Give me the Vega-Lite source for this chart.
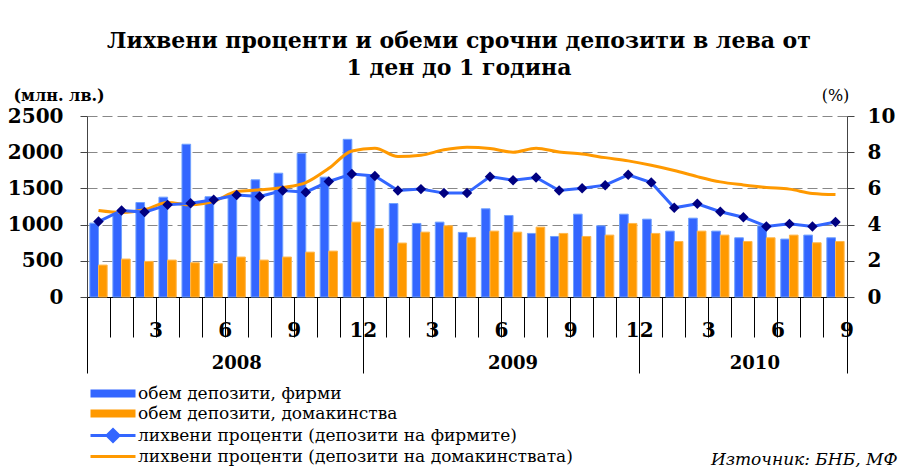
{
  "$schema": "https://vega.github.io/schema/vega-lite/v6.json",
  "autosize": "none",
  "width": 760,
  "height": 181,
  "padding": {"left": 87, "top": 116, "right": 53, "bottom": 170},
  "config": {"view": {"stroke": null}, "font": "DejaVu Serif"},
  "title": {
    "text": ["Лихвени проценти и обеми срочни депозити в лева от", "1 ден до 1 година"],
    "font": "DejaVu Serif", "fontSize": 22, "fontWeight": "bold", "color": "black",
    "anchor": "middle", "dx": -8, "offset": 7, "lineHeight": 27
  },
  "datasets": {
    "vol": [
      {"m": "2008-01", "s": "firms", "v": 1020}, {"m": "2008-01", "s": "households", "v": 441},
      {"m": "2008-02", "s": "firms", "v": 1170}, {"m": "2008-02", "s": "households", "v": 524},
      {"m": "2008-03", "s": "firms", "v": 1305}, {"m": "2008-03", "s": "households", "v": 492},
      {"m": "2008-04", "s": "firms", "v": 1379}, {"m": "2008-04", "s": "households", "v": 510},
      {"m": "2008-05", "s": "firms", "v": 2110}, {"m": "2008-05", "s": "households", "v": 473},
      {"m": "2008-06", "s": "firms", "v": 1385}, {"m": "2008-06", "s": "households", "v": 460},
      {"m": "2008-07", "s": "firms", "v": 1430}, {"m": "2008-07", "s": "households", "v": 552},
      {"m": "2008-08", "s": "firms", "v": 1618}, {"m": "2008-08", "s": "households", "v": 510},
      {"m": "2008-09", "s": "firms", "v": 1710}, {"m": "2008-09", "s": "households", "v": 552},
      {"m": "2008-10", "s": "firms", "v": 1985}, {"m": "2008-10", "s": "households", "v": 620},
      {"m": "2008-11", "s": "firms", "v": 1655}, {"m": "2008-11", "s": "households", "v": 634},
      {"m": "2008-12", "s": "firms", "v": 2178}, {"m": "2008-12", "s": "households", "v": 1034},
      {"m": "2009-01", "s": "firms", "v": 1670}, {"m": "2009-01", "s": "households", "v": 947},
      {"m": "2009-02", "s": "firms", "v": 1291}, {"m": "2009-02", "s": "households", "v": 745},
      {"m": "2009-03", "s": "firms", "v": 1016}, {"m": "2009-03", "s": "households", "v": 896},
      {"m": "2009-04", "s": "firms", "v": 1034}, {"m": "2009-04", "s": "households", "v": 984},
      {"m": "2009-05", "s": "firms", "v": 892}, {"m": "2009-05", "s": "households", "v": 823},
      {"m": "2009-06", "s": "firms", "v": 1218}, {"m": "2009-06", "s": "households", "v": 910},
      {"m": "2009-07", "s": "firms", "v": 1126}, {"m": "2009-07", "s": "households", "v": 896},
      {"m": "2009-08", "s": "firms", "v": 878}, {"m": "2009-08", "s": "households", "v": 965},
      {"m": "2009-09", "s": "firms", "v": 836}, {"m": "2009-09", "s": "households", "v": 878},
      {"m": "2009-10", "s": "firms", "v": 1144}, {"m": "2009-10", "s": "households", "v": 836},
      {"m": "2009-11", "s": "firms", "v": 983}, {"m": "2009-11", "s": "households", "v": 855},
      {"m": "2009-12", "s": "firms", "v": 1144}, {"m": "2009-12", "s": "households", "v": 1016},
      {"m": "2010-01", "s": "firms", "v": 1075}, {"m": "2010-01", "s": "households", "v": 878},
      {"m": "2010-02", "s": "firms", "v": 910}, {"m": "2010-02", "s": "households", "v": 767},
      {"m": "2010-03", "s": "firms", "v": 1089}, {"m": "2010-03", "s": "households", "v": 910},
      {"m": "2010-04", "s": "firms", "v": 910}, {"m": "2010-04", "s": "households", "v": 855},
      {"m": "2010-05", "s": "firms", "v": 818}, {"m": "2010-05", "s": "households", "v": 767},
      {"m": "2010-06", "s": "firms", "v": 983}, {"m": "2010-06", "s": "households", "v": 818},
      {"m": "2010-07", "s": "firms", "v": 800}, {"m": "2010-07", "s": "households", "v": 855},
      {"m": "2010-08", "s": "firms", "v": 855}, {"m": "2010-08", "s": "households", "v": 749},
      {"m": "2010-09", "s": "firms", "v": 818}, {"m": "2010-09", "s": "households", "v": 767}
    ],
    "rates": [
      {"m": "2008-01", "rf": 4.17, "rh": 4.78}, {"m": "2008-02", "rf": 4.78, "rh": 4.67},
      {"m": "2008-03", "rf": 4.69, "rh": 4.82}, {"m": "2008-04", "rf": 5.09, "rh": 5.22},
      {"m": "2008-05", "rf": 5.18, "rh": 5.09}, {"m": "2008-06", "rf": 5.37, "rh": 5.28},
      {"m": "2008-07", "rf": 5.64, "rh": 5.83}, {"m": "2008-08", "rf": 5.55, "rh": 5.92},
      {"m": "2008-09", "rf": 5.88, "rh": 6.05}, {"m": "2008-10", "rf": 5.79, "rh": 6.32},
      {"m": "2008-11", "rf": 6.38, "rh": 7.11}, {"m": "2008-12", "rf": 6.80, "rh": 8.07},
      {"m": "2009-01", "rf": 6.69, "rh": 8.22}, {"m": "2009-02", "rf": 5.88, "rh": 7.76},
      {"m": "2009-03", "rf": 5.96, "rh": 7.83}, {"m": "2009-04", "rf": 5.74, "rh": 8.13},
      {"m": "2009-05", "rf": 5.74, "rh": 8.27}, {"m": "2009-06", "rf": 6.65, "rh": 8.20},
      {"m": "2009-07", "rf": 6.45, "rh": 8.00}, {"m": "2009-08", "rf": 6.60, "rh": 8.22},
      {"m": "2009-09", "rf": 5.88, "rh": 8.01}, {"m": "2009-10", "rf": 6.01, "rh": 7.90},
      {"m": "2009-11", "rf": 6.18, "rh": 7.70}, {"m": "2009-12", "rf": 6.75, "rh": 7.52},
      {"m": "2010-01", "rf": 6.32, "rh": 7.28}, {"m": "2010-02", "rf": 4.93, "rh": 6.99},
      {"m": "2010-03", "rf": 5.15, "rh": 6.65}, {"m": "2010-04", "rf": 4.71, "rh": 6.36},
      {"m": "2010-05", "rf": 4.41, "rh": 6.19}, {"m": "2010-06", "rf": 3.90, "rh": 6.05},
      {"m": "2010-07", "rf": 4.04, "rh": 5.96}, {"m": "2010-08", "rf": 3.90, "rh": 5.72},
      {"m": "2010-09", "rf": 4.14, "rh": 5.66}
    ]
  },
  "layer": [
    {
      "data": {"name": "vol"},
      "mark": {"type": "bar", "strokeWidth": 1},
      "encoding": {
        "x": {
          "field": "m", "type": "ordinal",
          "scale": {"paddingInner": 0, "paddingOuter": 0},
          "axis": {
            "orient": "bottom", "title": null, "bandPosition": 0, "tickSize": 40,
            "tickColor": "black", "tickWidth": 1, "domainColor": "black", "domainWidth": 1,
            "labelExpr": "indexof(['03','06','09','12'], substring(datum.value,5,7)) >= 0 ? toNumber(substring(datum.value,5,7)) + '' : ''",
            "labelAngle": 0, "labelFont": "DejaVu Serif", "labelFontWeight": "bold", "labelFontSize": 20,
            "labelColor": "black", "labelOffset": 11.5, "labelPadding": -17,
            "labelOverlap": false, "labelBound": false, "labelFlush": false, "grid": false
          }
        },
        "xOffset": {"field": "s", "scale": {"paddingOuter": 0.33, "paddingInner": 0}},
        "y": {
          "field": "v", "type": "quantitative",
          "scale": {"domain": [0, 2500]},
          "axis": {
            "orient": "left", "values": [0, 500, 1000, 1500, 2000, 2500], "format": "d",
            "title": "(млн. лв.)", "titleAngle": 0, "titleAlign": "left", "titleX": -74, "titleY": -21,
            "titleBaseline": "middle", "titleFont": "DejaVu Serif", "titleFontSize": 16, "titleFontWeight": "bold", "titleColor": "black",
            "grid": true, "gridDash": [10, 5], "gridColor": "#888888", "gridWidth": 1,
            "tickSize": 7, "tickColor": "#444444", "domainColor": "#444444",
            "labelFont": "DejaVu Serif", "labelFontSize": 20, "labelFontWeight": "bold", "labelColor": "black", "labelPadding": 17
          }
        },
        "color": {
          "field": "s", "type": "nominal",
          "scale": {"domain": ["firms", "households", "rate_f", "rate_h"], "range": ["#3366ff", "#ff9900", "#3366ff", "#ff9900"]},
          "legend": {
            "orient": "none", "legendX": 0, "legendY": 269, "title": null, "direction": "vertical",
            "padding": 0, "rowPadding": -1, "labelOffset": 34, "labelLimit": 0,
            "labelFont": "DejaVu Serif", "labelFontSize": 17, "labelColor": "black",
            "symbolSize": 100, "symbolStrokeWidth": 3,
            "labelExpr": "datum.value=='firms' ? 'обем депозити, фирми' : datum.value=='households' ? 'обем депозити, домакинства' : datum.value=='rate_f' ? 'лихвени проценти (депозити на фирмите)' : 'лихвени проценти (депозити на домакинствата)'",
            "encode": {
              "symbols": {
                "update": {
                  "shape": {"signal": "(datum.value=='firms' || datum.value=='households') ? 'M-1,-0.8H8V0.8H-1Z' : (datum.value=='rate_f' ? 'M-1,0H2.3L3.5,-1.2L4.7,0L3.5,1.2L2.3,0ZM4.7,0H8' : 'M-1,0H8')"},
                  "fill": {"signal": "datum.value=='firms' ? '#3366ff' : datum.value=='households' ? '#ff9900' : datum.value=='rate_f' ? '#000080' : 'transparent'"},
                  "stroke": {"signal": "(datum.value=='firms' || datum.value=='households') ? 'transparent' : datum.value=='rate_f' ? '#3366ff' : '#ff9900'"},
                  "strokeWidth": {"value": 3},
                  "opacity": {"value": 1}
                }
              }
            }
          }
        },
        "stroke": {
          "field": "s", "type": "nominal",
          "scale": {"domain": ["firms", "households"], "range": ["#6fa0ff", "#ffb84d"]},
          "legend": null
        }
      }
    },
    {
      "data": {"name": "rates"},
      "mark": {"type": "line", "color": "#ff9900", "strokeWidth": 3, "interpolate": "monotone"},
      "encoding": {
        "x": {
          "field": "m", "type": "ordinal",
          "axis": {
            "orient": "bottom", "bandPosition": 1, "tickSize": 76,
            "tickColor": {"condition": {"test": "datum.value=='2010-09'", "value": "black"}, "value": "transparent"},
            "domain": false, "grid": false, "labels": false,
            "title": "Източник: БНБ, МФ", "titleFont": "DejaVu Serif", "titleFontStyle": "italic", "titleFontWeight": "normal",
            "titleFontSize": 17, "titleColor": "black", "titleAlign": "right", "titleX": 810, "titleY": 162, "titleBaseline": "middle", "titleAngle": 0
          }
        },
        "y": {"field": "rh", "type": "quantitative", "scale": {"domain": [0, 10]}, "axis": null}
      }
    },
    {
      "data": {"name": "rates"},
      "mark": {"type": "line", "color": "#3366ff", "strokeWidth": 3,
        "point": {"shape": "diamond", "filled": true, "color": "#000080", "size": 110, "opacity": 1}},
      "encoding": {
        "x": {
          "field": "m", "type": "ordinal",
          "axis": {
            "orient": "bottom", "title": null, "bandPosition": 0, "tickSize": 76,
            "tickColor": {"condition": {"test": "substring(datum.value,5,7)=='01'", "value": "black"}, "value": "transparent"},
            "domain": false, "grid": false,
            "labelExpr": "datum.value=='2008-07' ? '2008' : datum.value=='2009-07' ? '2009' : datum.value=='2010-05' ? '2010' : ''",
            "labelOffset": {"condition": {"test": "datum.value=='2010-05'", "value": 11.5}, "value": 0},
            "labelPadding": -19, "labelAngle": 0, "labelFont": "DejaVu Serif", "labelFontWeight": "bold", "labelFontSize": 18,
            "labelColor": "black", "labelOverlap": false, "labelBound": false, "labelFlush": false
          }
        },
        "y": {
          "field": "rf", "type": "quantitative", "scale": {"domain": [0, 10]},
          "axis": {
            "orient": "right", "values": [0, 2, 4, 6, 8, 10],
            "title": "(%)", "titleAngle": 0, "titleAlign": "center", "titleX": -12, "titleY": -21, "titleBaseline": "middle",
            "titleFont": "DejaVu Serif", "titleFontSize": 16, "titleFontWeight": "normal", "titleColor": "black",
            "grid": false, "tickSize": 7, "tickColor": "#444444", "domainColor": "#444444",
            "labelFont": "DejaVu Serif", "labelFontSize": 20, "labelFontWeight": "bold", "labelColor": "black", "labelPadding": 13
          }
        }
      }
    }
  ],
  "resolve": {"scale": {"y": "independent"}, "axis": {"x": "independent"}}
}
